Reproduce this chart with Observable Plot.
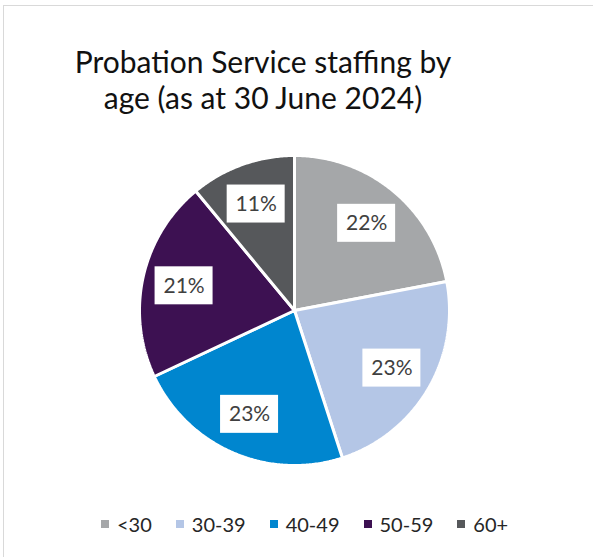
<!DOCTYPE html>
<html>
<head>
<meta charset="utf-8">
<script src="https://cdn.jsdelivr.net/npm/d3@7"></script>
<script src="https://cdn.jsdelivr.net/npm/@observablehq/plot@0.6"></script>
<style>
  html, body { margin: 0; padding: 0; background: #fff; }
  body { width: 593px; height: 557px; position: relative; overflow: hidden; font-family: Lato, "Noto Sans", sans-serif; }
  #frame { position: absolute; left: 3px; top: 5px; width: 700px; height: 700px; border: 1.5px solid #d9d9d9; box-sizing: border-box; }
  #title { position: absolute; left: 0; top: 43px; width: 526px; text-align: center; font-size: 30px; line-height: 36px; color: #111; }
  #chart { position: absolute; left: 134px; top: 150px; }
  #legend { position: absolute; left: 101px; top: 514px; display: flex; gap: 24px; font-size: 20px; line-height: 20px; color: #262626; white-space: nowrap; }
  #legend .item { display: flex; align-items: center; gap: 8px; }
  #legend .sw { width: 8px; height: 8px; display: inline-block; }
</style>
</head>
<body>
<div id="frame"></div>
<div id="title">Probation Service staffing by<br>age (as at 30 June 2024)</div>
<div id="chart"></div>
<div id="legend"></div>
<script>
const categories = ["<30", "30-39", "40-49", "50-59", "60+"];
const values = [22, 23, 23, 21, 11];
const colors = ["#a5a7a9", "#b4c6e6", "#0086cf", "#3d1152", "#56585b"];

const arcs = d3.pie().sort(null).value(d => d.value)(categories.map((c, i) => ({cat: c, value: values[i]})));

const points = [];
const labels = [];
for (const a of arcs) {
  const cat = a.data.cat;
  points.push({cat, x: 0, y: 0});
  const n = Math.max(4, Math.ceil((a.endAngle - a.startAngle) / 0.01));
  for (let k = 0; k <= n; k++) {
    const t = a.startAngle + (a.endAngle - a.startAngle) * k / n;
    points.push({cat, x: Math.sin(t), y: Math.cos(t)});
  }
  points.push({cat, x: 0, y: 0});
  const m = (a.startAngle + a.endAngle) / 2;
  labels.push({cat, v: a.data.value, x: 0.73 * Math.sin(m), y: 0.73 * Math.cos(m)});
}

const hw = 29 / 155, hh = 19 / 155;
const plot = Plot.plot({
  width: 320, height: 320,
  margin: 5,
  x: {domain: [-1, 1], axis: null},
  y: {domain: [-1, 1], axis: null},
  color: {domain: categories, range: colors},
  marks: [
    Plot.line(points, {x: "x", y: "y", z: "cat", fill: "cat", stroke: "white", strokeWidth: 3, strokeLinejoin: "miter", curve: "linear"}),
    Plot.rect(labels, {x1: d => d.x - hw, x2: d => d.x + hw, y1: d => d.y - hh, y2: d => d.y + hh, fill: "white"}),
    Plot.text(labels, {x: "x", y: "y", text: d => d.v + "%", fontSize: 21, fill: "#404040", fontFamily: "Lato"})
  ]
});
document.getElementById("chart").appendChild(plot);

const legend = document.getElementById("legend");
categories.forEach((c, i) => {
  const item = document.createElement("span");
  item.className = "item";
  const sw = document.createElement("span");
  sw.className = "sw";
  sw.style.background = colors[i];
  const tx = document.createElement("span");
  tx.textContent = c;
  item.appendChild(sw);
  item.appendChild(tx);
  legend.appendChild(item);
});
</script>
</body>
</html>
